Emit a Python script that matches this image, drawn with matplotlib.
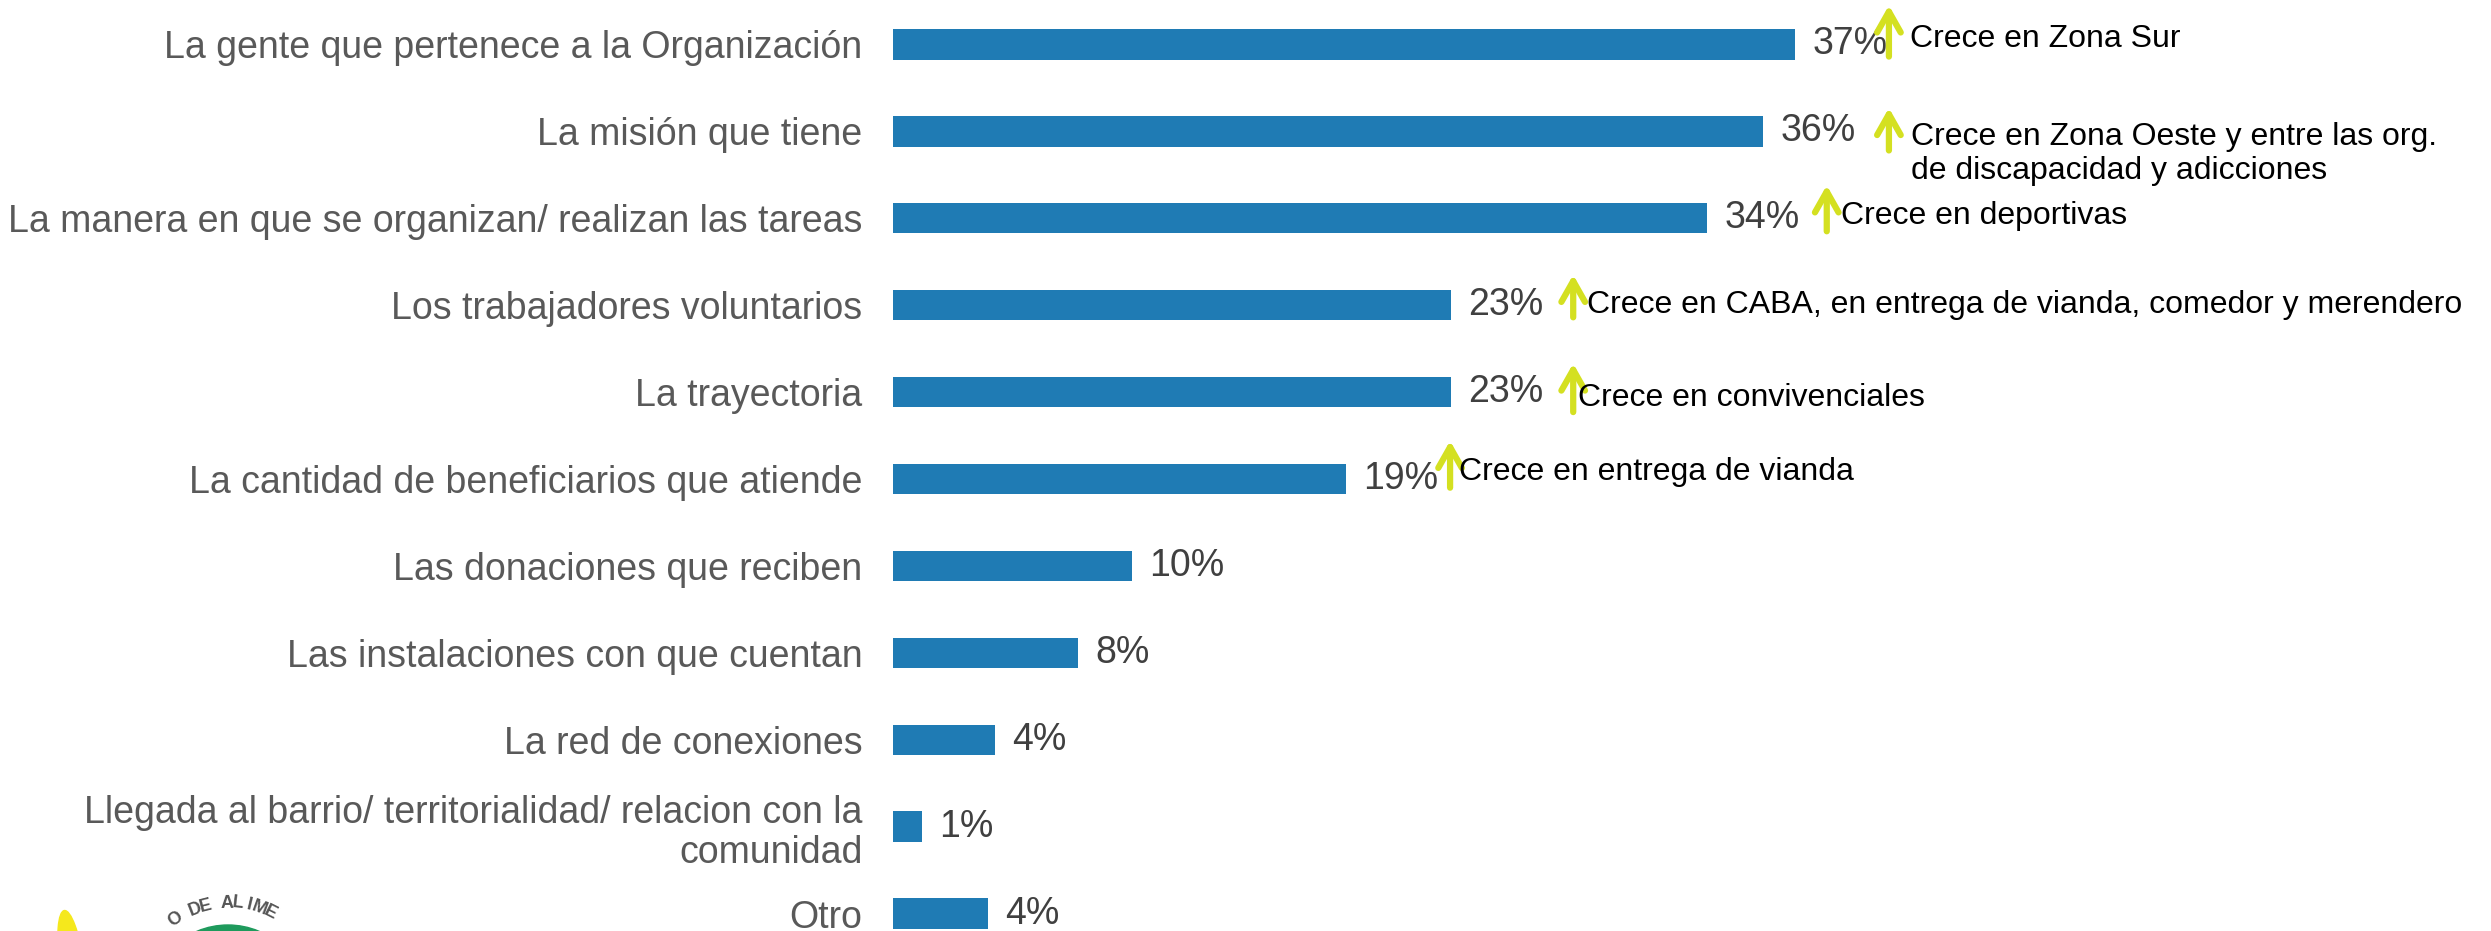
import numpy as np
import matplotlib.pyplot as plt
from matplotlib.patches import Ellipse, Circle

plt.rcParams['font.family'] = ['Liberation Sans', 'DejaVu Sans']

# ---------------------------------------------------------------------------
# Data
# ---------------------------------------------------------------------------

categories = [
    "La gente que pertenece a la Organización",
    "La misión que tiene",
    "La manera en que se organizan/ realizan las tareas",
    "Los trabajadores voluntarios",
    "La trayectoria",
    "La cantidad de beneficiarios que atiende",
    "Las donaciones que reciben",
    "Las instalaciones con que cuentan",
    "La red de conexiones",
    "Llegada al barrio/ territorialidad/ relacion con la\ncomunidad",
    "Otro",
]
values = [37.0, 35.7, 33.4, 22.9, 22.9, 18.6, 9.8, 7.6, 4.2, 1.2, 3.9]
value_labels = ["37%", "36%", "34%", "23%", "23%", "19%", "10%", "8%", "4%", "1%", "4%"]

# "Crece en ..." notes for the first six rows
notes = [
    "Crece en Zona Sur",
    "Crece en Zona Oeste y entre las org.\nde discapacidad y adicciones",
    "Crece en deportivas",
    "Crece en CABA, en entrega de vianda, comedor y merendero",
    "Crece en convivenciales",
    "Crece en entrega de vianda",
]

# layout of the notes (data x, row offsets)
arrow_x   = [40.85, 40.85, 38.3, 27.9, 27.9, 22.85]
arrow_top = [-0.45, -0.27, -0.38, -0.35, -0.33, -0.44]
arrow_bot = [0.14, 0.22, 0.15, 0.14, 0.23, 0.10]
note_x    = [41.7, 41.75, 38.9, 28.45, 28.1, 23.2]
note_dy   = [-0.06, 0.26, -0.03, 0.0, 0.07, -0.08]

BAR_C   = '#1f7bb4'
ARROW_C = '#d4e021'

# ---------------------------------------------------------------------------
# Figure
# ---------------------------------------------------------------------------

W, H = 2491, 931
fig = plt.figure(figsize=(W / 100, H / 100), dpi=100)

x0 = 893
ax = fig.add_axes([x0 / W, 0, 1 - x0 / W, 1])
y = np.arange(len(categories))
ax.barh(y, values, height=0.35, color=BAR_C)
ax.set_xlim(0, (W - x0) / 24.38)
ax.set_ylim(10.2, -0.511)

ax.set_yticks(y)
ax.set_yticklabels(categories, fontsize=27, color='#595959', linespacing=1.15)
ax.tick_params(axis='y', length=0, pad=22)
ax.set_xticks([])
for s in ax.spines.values():
    s.set_visible(False)

for yi, v, lab in zip(y, values, value_labels):
    ax.text(v + 0.7, yi, lab, va='center', ha='left', fontsize=27, color='#404040')

for i, txt in enumerate(notes):
    ax.annotate('', xy=(arrow_x[i], i + arrow_top[i]), xytext=(arrow_x[i], i + arrow_bot[i]),
                arrowprops=dict(arrowstyle='->,head_length=1.5,head_width=0.85',
                                color=ARROW_C, lw=4.5, shrinkA=0, shrinkB=0,
                                mutation_scale=10))
    ax.text(note_x[i], i + note_dy[i], txt, va='center', ha='left', fontsize=23,
            color='black', linespacing=1.15)

# ---------------------------------------------------------------------------
# Partial logo in the bottom-left corner
# ---------------------------------------------------------------------------

lax = fig.add_axes([0, 0, 1, 1], zorder=-1)
lax.set_xlim(0, W)
lax.set_ylim(H, 0)
lax.axis('off')
lax.add_patch(Ellipse((72, 965), 24, 110, angle=-8, color='#f5e81c'))
lax.add_patch(Circle((228, 1005), 80, color='#1e9a5c'))
cx, cy, r = 228, 995, 92
for ch, ang in zip("O DE ALIME", np.linspace(125, 63, 10)):
    if ch == ' ':
        continue
    t = np.radians(ang)
    lax.text(cx + r * np.cos(t), cy - r * np.sin(t), ch, rotation=ang - 90,
             ha='center', va='center', fontsize=13, fontweight='bold', color='#555555')

fig.savefig('out.png', dpi=100)
